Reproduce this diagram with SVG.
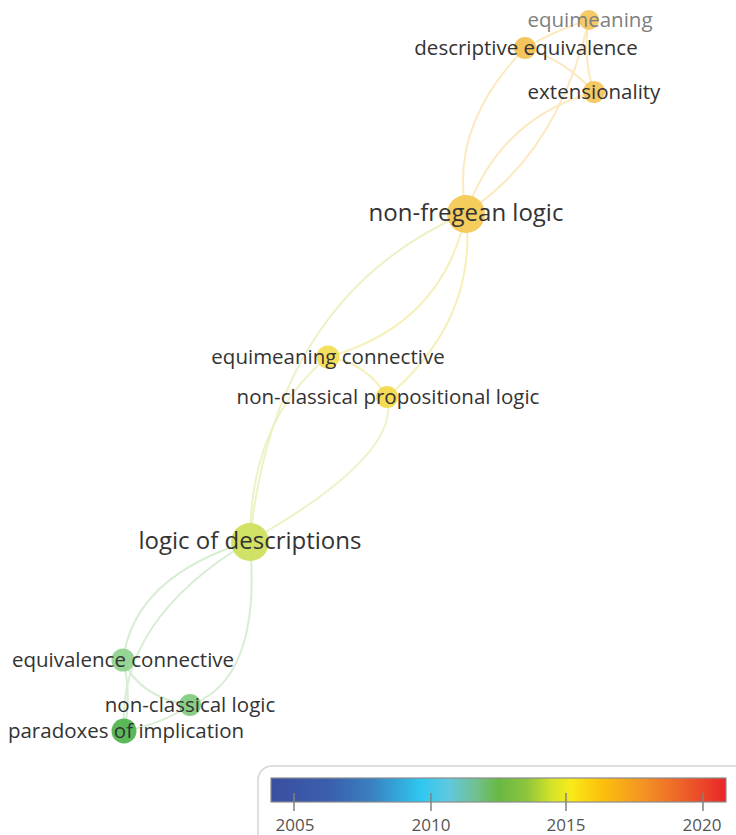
<svg xmlns="http://www.w3.org/2000/svg" width="736" height="835" viewBox="0 0 736 835">
<defs>
<linearGradient id="scale" x1="0" y1="0" x2="1" y2="0">
<stop offset="0" stop-color="#3b4ea0"/>
<stop offset="0.13" stop-color="#3a5fae"/>
<stop offset="0.22" stop-color="#3a80c0"/>
<stop offset="0.33" stop-color="#2ec8f0"/>
<stop offset="0.39" stop-color="#60c8e0"/>
<stop offset="0.45" stop-color="#72c090"/>
<stop offset="0.50" stop-color="#68b844"/>
<stop offset="0.56" stop-color="#8cc43c"/>
<stop offset="0.62" stop-color="#d8e428"/>
<stop offset="0.66" stop-color="#f8ea1a"/>
<stop offset="0.72" stop-color="#fcc40c"/>
<stop offset="0.82" stop-color="#f49224"/>
<stop offset="0.90" stop-color="#ee6428"/>
<stop offset="1" stop-color="#e8262a"/>
</linearGradient>
</defs>
<style>
.e{fill:none;stroke-width:2;stroke-linecap:round}
.eo{stroke:#fce9c0}
.ey{stroke:#f6f0b8}
.el{stroke:#edf2c6}
.eg{stroke:#d8edd4}
.n{opacity:0.92}
.t{font-family:"Open Sans","Noto Sans","DejaVu Sans",sans-serif;fill:#333;text-anchor:middle}
.s{font-size:20.5px}
.b{font-size:24px}
.k{font-family:"Open Sans","Noto Sans","DejaVu Sans",sans-serif;font-size:17px;fill:#555;text-anchor:middle}
</style>
<rect width="736" height="835" fill="#ffffff"/>
<g id="connectors">
<path class="e eo" d="M589,20 Q560,28 525,48"/>
<path class="e eo" d="M525,48 Q565,60 594,92"/>
<path class="e eo" d="M589,20 Q582,55 594,92"/>
<path class="e eo" d="M589,20 Q558,153 466,213"/>
<path class="e eo" d="M594,92 Q500,118 466,213"/>
<path class="e eo" d="M525,48 Q449,126 466,213"/>
<path class="e ey" d="M466,213 Q443,325 328,357"/>
<path class="e ey" d="M466,213 Q478,320 387,397"/>
<path class="e ey" d="M328,357 Q367,363 387,397"/>
<path class="e el" d="M466,213 Q274,296 250,541"/>
<path class="e el" d="M328,357 Q250,420 250,541"/>
<path class="e el" d="M387,397 Q402,455 250,541"/>
<path class="e eg" d="M250,541 Q134,576 123,660"/>
<path class="e eg" d="M250,541 Q117,620 124,731"/>
<path class="e eg" d="M250,541 Q262,680 190,705"/>
<path class="e eg" d="M190,705 Q160,725 124,731"/>
<path class="e eg" d="M123,660 Q132,695 124,731"/>
<path class="e eg" d="M123,660 Q140,698 190,705"/>
</g>
<g id="node-equimeaning"><circle class="n" cx="589" cy="20" r="10" fill="#f5c65a"/><text class="t s" x="590" y="27" style="fill:#808080">equimeaning</text></g>
<g id="node-descriptive-equivalence"><circle class="n" cx="525" cy="48" r="11" fill="#f3c050"/><text class="t s" x="526" y="55">descriptive equivalence</text></g>
<g id="node-extensionality"><circle class="n" cx="594" cy="92" r="11" fill="#f4c458"/><text class="t s" x="594" y="99">extensionality</text></g>
<g id="node-non-fregean-logic"><circle class="n" cx="466" cy="214" r="19" fill="#f4c850"/><text class="t b" x="466" y="221">non-fregean logic</text></g>
<g id="node-equimeaning-connective"><circle class="n" cx="328" cy="357" r="11.5" fill="#f4dc50"/><text class="t s" x="328" y="364">equimeaning connective</text></g>
<g id="node-non-classical-propositional-logic"><circle class="n" cx="387" cy="397" r="11" fill="#f3d848"/><text class="t s" x="388" y="404">non-classical propositional logic</text></g>
<g id="node-logic-of-descriptions"><circle class="n" cx="250" cy="542" r="19" fill="#cde05a"/><text class="t b" x="250" y="549">logic of descriptions</text></g>
<g id="node-equivalence-connective"><circle class="n" cx="123" cy="660" r="11.5" fill="#8ed18c"/><text class="t s" x="123" y="667">equivalence connective</text></g>
<g id="node-non-classical-logic"><circle class="n" cx="190" cy="705" r="11" fill="#7fcb7e"/><text class="t s" x="190" y="712">non-classical logic</text></g>
<g id="node-paradoxes-of-implication"><circle class="n" cx="124" cy="731" r="12.5" fill="#4db34c"/><text class="t s" x="126" y="738">paradoxes of implication</text></g>
<g id="legend">
<rect x="258" y="766" width="500" height="100" rx="14" fill="#ffffff" stroke="#d4d4d4" stroke-width="1.5"/>
<rect x="271" y="778" width="455" height="24" fill="url(#scale)" stroke="#8a8a8a" stroke-width="1.2"/>
<g stroke="#808080" stroke-width="1.5">
<line x1="294" y1="793" x2="294" y2="811"/>
<line x1="431" y1="793" x2="431" y2="811"/>
<line x1="566" y1="793" x2="566" y2="811"/>
<line x1="703" y1="793" x2="703" y2="811"/>
</g>
<text class="k" x="295" y="831">2005</text>
<text class="k" x="431" y="831">2010</text>
<text class="k" x="566" y="831">2015</text>
<text class="k" x="702" y="831">2020</text>
</g>
</svg>
